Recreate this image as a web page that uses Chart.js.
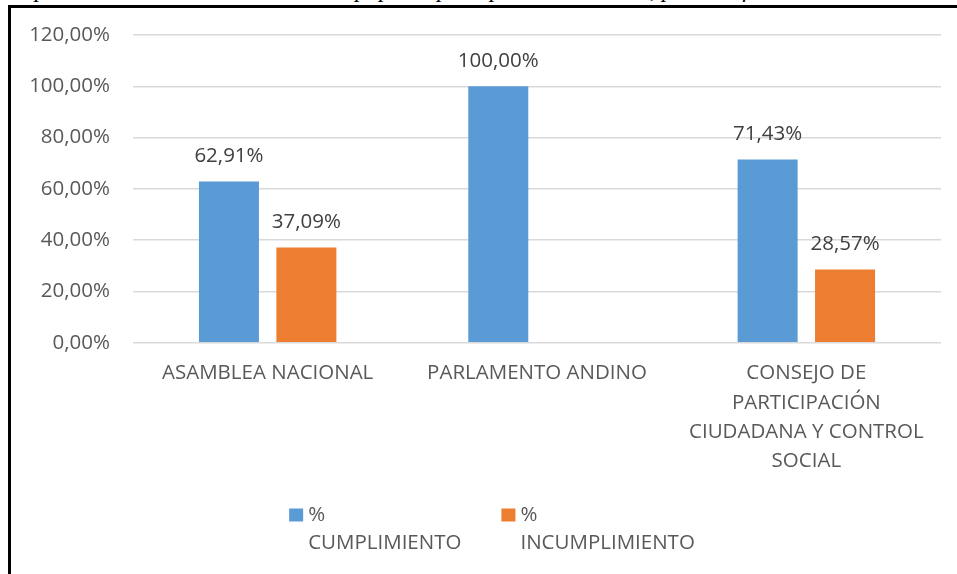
<!DOCTYPE html>
<html>
<head>
<meta charset="utf-8">
<script src="https://cdn.jsdelivr.net/npm/chart.js"></script>
<style>
  html, body { margin: 0; padding: 0; background: #fff; width: 957px; height: 574px; overflow: hidden; }
  #caption {
    position: absolute; left: 6px; top: -23px;
    font: italic 24px "Liberation Serif"; line-height: 24px;
    white-space: nowrap; color: #000;
  }
  #frame {
    position: absolute; left: 8px; top: 5px; width: 960px; height: 580px;
    border-left: 3px solid #000; border-top: 3px solid #000;
  }
  #wrap { position: absolute; left: 11px; top: 8px; width: 946px; height: 566px; }
</style>
</head>
<body>
<div id="caption">de parte de autoridades de elección popular por tipo de institución, periodo fiscal 2019</div>
<div id="frame"></div>
<div id="wrap"><canvas id="chart" width="946" height="566"></canvas></div>
<script>
const categories = [
  ['ASAMBLEA NACIONAL'],
  ['PARLAMENTO ANDINO'],
  ['CONSEJO DE', 'PARTICIPACIÓN', 'CIUDADANA Y CONTROL', 'SOCIAL']
];
const seriesNames = ['% CUMPLIMIENTO', '% INCUMPLIMIENTO'];
const cumplimiento = [62.91, 100.00, 71.43];
const incumplimiento = [37.09, null, 28.57];
const yTicks = [0, 20, 40, 60, 80, 100, 120];

const FONT = '"Open Sans"';
const fmt = v => v.toFixed(2).replace('.', ',') + '%';

// value labels above each bar
const barLabels = {
  id: 'barLabels',
  afterDatasetsDraw(chart) {
    const ctx = chart.ctx;
    ctx.save();
    ctx.font = '20.5px ' + FONT;
    ctx.fillStyle = '#404040';
    ctx.textAlign = 'center';
    ctx.textBaseline = 'middle';
    chart.data.datasets.forEach((ds, i) => {
      chart.getDatasetMeta(i).data.forEach((bar, j) => {
        if (ds.data[j] === null) return;
        ctx.fillText(fmt(ds.data[j]), bar.x, bar.y - 25);
      });
    });
    ctx.restore();
  }
};

// legend with the name wrapped on two lines, like Excel does
const wrappedLegend = {
  id: 'wrappedLegend',
  afterDraw(chart) {
    const ctx = chart.ctx;
    ctx.save();
    ctx.font = '20.5px ' + FONT;
    ctx.textBaseline = 'middle';
    ctx.textAlign = 'left';
    const items = chart.data.datasets.map(ds => {
      const parts = ds.label.split(' ');
      const lines = [parts[0], parts.slice(1).join(' ')];
      const w = Math.max(...lines.map(l => ctx.measureText(l).width));
      return { lines, w, color: ds.backgroundColor };
    });
    const box = 14, gap = 5, itemGap = 40, lh = 28;
    const total = items.reduce((s, it) => s + box + gap + it.w, 0) + itemGap * (items.length - 1);
    let x = (chart.width - total) / 2 + 8;
    const y = chart.height - 59;
    items.forEach(it => {
      ctx.fillStyle = it.color;
      ctx.fillRect(x, y - 6.5, box, 13);
      ctx.fillStyle = '#595959';
      it.lines.forEach((l, k) => ctx.fillText(l, x + box + gap, y + k * lh));
      x += box + gap + it.w + itemGap;
    });
    ctx.restore();
  }
};

new Chart(document.getElementById('chart'), {
  type: 'bar',
  data: {
    labels: categories,
    datasets: [
      { label: seriesNames[0], data: cumplimiento, backgroundColor: '#5B9BD5' },
      { label: seriesNames[1], data: incumplimiento, backgroundColor: '#ED7D31' }
    ]
  },
  options: {
    responsive: false,
    animation: false,
    devicePixelRatio: 1,
    categoryPercentage: 0.575,
    barPercentage: 0.775,
    layout: { padding: { left: 0, right: 16, top: 27, bottom: 82 } },
    plugins: {
      legend: { display: false },
      tooltip: { enabled: false }
    },
    scales: {
      x: {
        grid: { display: false, drawTicks: false },
        border: { display: false },
        ticks: {
          color: '#595959',
          font: { family: FONT, size: 20.5, lineHeight: 1.43 },
          padding: 16,
          maxRotation: 0,
          autoSkip: false
        }
      },
      y: {
        min: 0,
        max: 120,
        afterFit: s => { s.width = 122; s.paddingTop = 0; s.paddingBottom = 0; },
        afterBuildTicks: s => { s.ticks = yTicks.map(v => ({ value: v })); },
        grid: { color: '#D9D9D9', lineWidth: 1.5, drawTicks: false },
        border: { display: false },
        ticks: {
          color: '#595959',
          font: { family: FONT, size: 20.5 },
          padding: 23,
          callback: v => fmt(v)
        }
      }
    }
  },
  plugins: [barLabels, wrappedLegend]
});
</script>
</body>
</html>
